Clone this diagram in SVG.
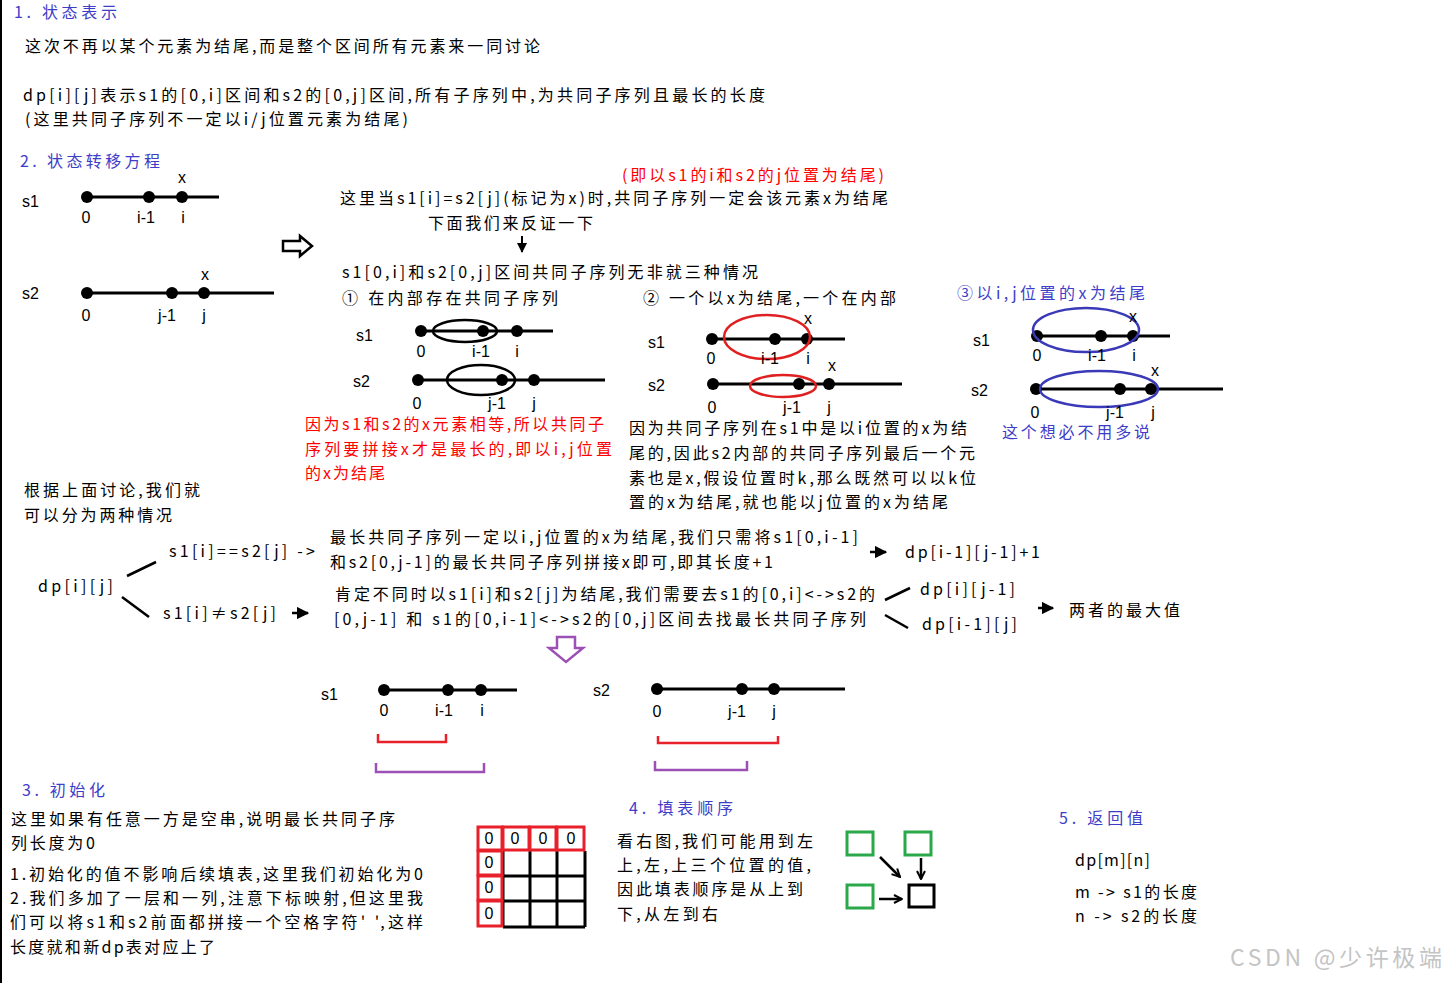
<svg xmlns="http://www.w3.org/2000/svg" width="1445" height="983" viewBox="0 0 1445 983">
<style>
.t{font-family:"Noto Sans CJK SC","Liberation Sans",sans-serif;font-size:16px;fill:#000}
.b{fill:#3d3dc8}
.r{fill:#ff0000}
.l{font-family:"Liberation Sans",Arial,sans-serif;font-size:16px;fill:#000}
.m{text-anchor:middle}
.ln{stroke:#000;stroke-width:3;fill:none}
.el{stroke-width:2.5;fill:none}
.cell{fill:none;stroke:#e8202a;stroke-width:3}
.g{fill:none;stroke:#2aa84a;stroke-width:3}
</style>
<defs>
<marker id="ah" viewBox="0 0 10 10" refX="9" refY="5" markerWidth="5" markerHeight="5" orient="auto">
<path d="M0,0 L10,5 L0,10 z" fill="#000"/>
</marker>
<marker id="ov" viewBox="0 0 10 10" refX="9" refY="5" markerWidth="4" markerHeight="4" orient="auto">
<path d="M1,1 L9,5 L1,9" fill="none" stroke="#000" stroke-width="2"/>
</marker>
</defs>
<rect x="0" y="0" width="1445" height="983" fill="#fff"/>
<rect x="0" y="0" width="2" height="983" fill="#000"/>

<g id="sec1">
<text class="t b" x="14" y="18" font-size="15" textLength="103">1. 状态表示</text>
<text class="t" x="25" y="52" textLength="515">这次不再以某个元素为结尾,而是整个区间所有元素来一同讨论</text>
<text class="t" x="23" y="101" textLength="742">dp[i][j]表示s1的[0,i]区间和s2的[0,j]区间,所有子序列中,为共同子序列且最长的长度</text>
<text class="t" x="25" y="125" textLength="383">(这里共同子序列不一定以i/j位置元素为结尾)</text>
</g>

<g id="sec2-head">
<text class="t b" x="20" y="167" font-size="15" textLength="140">2. 状态转移方程</text>
</g>

<g id="left-s1">
<text class="l" x="22" y="207">s1</text>
<line class="ln" x1="87" y1="197" x2="219" y2="197"/>
<circle cx="87" cy="197" r="6"/><circle cx="149" cy="197" r="6"/><circle cx="182" cy="197" r="6"/>
<text class="l m" x="182" y="183" font-size="14">x</text>
<text class="l m" x="86" y="223">0</text><text class="l m" x="146" y="223">i-1</text><text class="l m" x="183" y="223">i</text>
</g>
<g id="left-s2">
<text class="l" x="22" y="299">s2</text>
<line class="ln" x1="87" y1="293" x2="274" y2="293"/>
<circle cx="87" cy="293" r="6"/><circle cx="172" cy="293" r="6"/><circle cx="204" cy="293" r="6"/>
<text class="l m" x="205" y="280" font-size="14">x</text>
<text class="l m" x="86" y="321">0</text><text class="l m" x="167" y="321">j-1</text><text class="l m" x="204" y="321">j</text>
</g>

<g id="claim">
<text class="t r" x="622" y="181" textLength="262">(即以s1的i和s2的j位置为结尾)</text>
<text class="t" x="340" y="204" textLength="548">这里当s1[i]=s2[j](标记为x)时,共同子序列一定会该元素x为结尾</text>
<text class="t" x="428" y="229" textLength="165">下面我们来反证一下</text>
<text class="t" x="342" y="278" textLength="416">s1[0,i]和s2[0,j]区间共同子序列无非就三种情况</text>
<text class="t" x="342" y="304" textLength="216">① 在内部存在共同子序列</text>
<text class="t" x="643" y="304" textLength="253">② 一个以x为结尾,一个在内部</text>
<text class="t b" x="957" y="299" textLength="188">③以i,j位置的x为结尾</text>
</g>

<g id="case1">
<text class="l" x="356" y="341">s1</text>
<line class="ln" x1="417" y1="331" x2="553" y2="331"/>
<circle cx="421" cy="331" r="6"/><circle cx="483" cy="331" r="6"/><circle cx="517" cy="331" r="6"/>
<ellipse class="el" cx="465" cy="331" rx="32" ry="11" stroke="#000"/>
<text class="l m" x="421" y="357">0</text><text class="l m" x="481" y="357">i-1</text><text class="l m" x="517" y="357">i</text>
<text class="l" x="353" y="387">s2</text>
<line class="ln" x1="417" y1="380" x2="605" y2="380"/>
<circle cx="418" cy="380" r="6"/><circle cx="502" cy="380" r="6"/><circle cx="534" cy="380" r="6"/>
<ellipse class="el" cx="481" cy="380" rx="34" ry="15" stroke="#000"/>
<text class="l m" x="417" y="409">0</text><text class="l m" x="497" y="409">j-1</text><text class="l m" x="534" y="409">j</text>
<text class="t r" x="305" y="430" textLength="299">因为s1和s2的x元素相等,所以共同子</text>
<text class="t r" x="305" y="455" textLength="307">序列要拼接x才是最长的,即以i,j位置</text>
<text class="t r" x="305" y="479" textLength="80">的x为结尾</text>
</g>

<g id="case2">
<text class="l" x="648" y="348">s1</text>
<line class="ln" x1="712" y1="339" x2="845" y2="339"/>
<circle cx="712" cy="339" r="6"/><circle cx="775" cy="339" r="6"/><circle cx="807" cy="339" r="6"/>
<ellipse class="el" cx="767" cy="337" rx="43" ry="22" stroke="#e02020"/>
<text class="l m" x="808" y="324" font-size="14">x</text>
<text class="l m" x="711" y="364">0</text><text class="l m" x="770" y="364">i-1</text><text class="l m" x="808" y="364">i</text>
<text class="l" x="648" y="391">s2</text>
<line class="ln" x1="713" y1="384" x2="902" y2="384"/>
<circle cx="713" cy="384" r="6"/><circle cx="799" cy="384" r="6"/><circle cx="829" cy="384" r="6"/>
<ellipse class="el" cx="783" cy="386" rx="33" ry="11" stroke="#e02020"/>
<text class="l m" x="832" y="371" font-size="14">x</text>
<text class="l m" x="712" y="413">0</text><text class="l m" x="792" y="413">j-1</text><text class="l m" x="829" y="413">j</text>
<text class="t" x="629" y="434" textLength="338">因为共同子序列在s1中是以i位置的x为结</text>
<text class="t" x="629" y="459" textLength="346">尾的,因此s2内部的共同子序列最后一个元</text>
<text class="t" x="629" y="484" textLength="347">素也是x,假设位置时k,那么既然可以以k位</text>
<text class="t" x="629" y="508" textLength="319">置的x为结尾,就也能以j位置的x为结尾</text>
</g>

<g id="case3">
<text class="l" x="973" y="346">s1</text>
<line class="ln" x1="1037" y1="336" x2="1170" y2="336"/>
<circle cx="1037" cy="336" r="6"/><circle cx="1101" cy="336" r="6"/><circle cx="1133" cy="336" r="6"/>
<ellipse class="el" cx="1086" cy="330" rx="53" ry="22" stroke="#3a3ab8"/>
<text class="l m" x="1133" y="322" font-size="14">x</text>
<text class="l m" x="1037" y="361">0</text><text class="l m" x="1097" y="361">i-1</text><text class="l m" x="1134" y="361">i</text>
<text class="l" x="971" y="396">s2</text>
<line class="ln" x1="1036" y1="389" x2="1223" y2="389"/>
<circle cx="1036" cy="389" r="6"/><circle cx="1120" cy="389" r="6"/><circle cx="1151" cy="389" r="6"/>
<ellipse class="el" cx="1099" cy="389" rx="59" ry="18" stroke="#3a3ab8"/>
<text class="l m" x="1155" y="376" font-size="14">x</text>
<text class="l m" x="1035" y="418">0</text><text class="l m" x="1115" y="418">j-1</text><text class="l m" x="1153" y="418">j</text>
<text class="t b" x="1002" y="438" textLength="148">这个想必不用多说</text>
</g>

<g id="summary">
<text class="t" x="24" y="496" textLength="176">根据上面讨论,我们就</text>
<text class="t" x="24" y="521" textLength="148">可以分为两种情况</text>
</g>

<g id="tree">
<text class="t" x="38" y="592" textLength="75">dp[i][j]</text>
<text class="t" x="169" y="557" textLength="146">s1[i]==s2[j] -&gt;</text>
<text class="t" x="163" y="619" textLength="113">s1[i]≠s2[j]</text>
<text class="t" x="330" y="543" textLength="528">最长共同子序列一定以i,j位置的x为结尾,我们只需将s1[0,i-1]</text>
<text class="t" x="330" y="568" textLength="443">和s2[0,j-1]的最长共同子序列拼接x即可,即其长度+1</text>
<text class="t" x="905" y="558" textLength="135">dp[i-1][j-1]+1</text>
<text class="t" x="335" y="600" textLength="540">肯定不同时以s1[i]和s2[j]为结尾,我们需要去s1的[0,i]&lt;-&gt;s2的</text>
<text class="t" x="334" y="625" textLength="532">[0,j-1]  和  s1的[0,i-1]&lt;-&gt;s2的[0,j]区间去找最长共同子序列</text>
<text class="t" x="920" y="595" textLength="95">dp[i][j-1]</text>
<text class="t" x="922" y="630" textLength="95">dp[i-1][j]</text>
<text class="t" x="1069" y="616" textLength="111">两者的最大值</text>
</g>

<g id="bottom-s1">
<text class="l" x="321" y="700">s1</text>
<line class="ln" x1="384" y1="690" x2="517" y2="690"/>
<circle cx="384" cy="690" r="6"/><circle cx="448" cy="690" r="6"/><circle cx="481" cy="690" r="6"/>
<text class="l m" x="384" y="716">0</text><text class="l m" x="444" y="716">i-1</text><text class="l m" x="482" y="716">i</text>
<path d="M378,734 V742 H446 V734" fill="none" stroke="#e8202a" stroke-width="2.5"/>
<path d="M376,763 V772 H484 V763" fill="none" stroke="#9c50b6" stroke-width="2.5"/>
</g>
<g id="bottom-s2">
<text class="l" x="593" y="696">s2</text>
<line class="ln" x1="657" y1="689" x2="845" y2="689"/>
<circle cx="657" cy="689" r="6"/><circle cx="742" cy="689" r="6"/><circle cx="774" cy="689" r="6"/>
<text class="l m" x="657" y="717">0</text><text class="l m" x="737" y="717">j-1</text><text class="l m" x="774" y="717">j</text>
<path d="M658,736 V743 H778 V736" fill="none" stroke="#e8202a" stroke-width="2.5"/>
<path d="M655,761 V770 H747 V761" fill="none" stroke="#9c50b6" stroke-width="2.5"/>
</g>

<g id="sec3">
<text class="t b" x="22" y="796" font-size="15" textLength="83">3. 初始化</text>
<text class="t" x="11" y="825" textLength="384">这里如果有任意一方是空串,说明最长共同子序</text>
<text class="t" x="11" y="849" textLength="84">列长度为0</text>
<text class="t" x="10" y="880" textLength="413">1.初始化的值不影响后续填表,这里我们初始化为0</text>
<text class="t" x="10" y="904" textLength="413">2.我们多加了一层和一列,注意下标映射,但这里我</text>
<text class="t" x="10" y="928" textLength="413">们可以将s1和s2前面都拼接一个空格字符'  ',这样</text>
<text class="t" x="10" y="953" textLength="205">长度就和新dp表对应上了</text>
</g>

<g id="grid">
<path d="M503,851 V927 M530,851 V927 M557,851 V927 M585,851 V927 M503,876 H585 M503,901 H585 M503,927 H585" stroke="#000" stroke-width="3" fill="none"/>
<rect class="cell" x="478" y="827" width="24" height="23"/>
<rect class="cell" x="503" y="827" width="26" height="23"/>
<rect class="cell" x="530" y="827" width="26" height="23"/>
<rect class="cell" x="557" y="827" width="27" height="23"/>
<rect class="cell" x="478" y="851" width="24" height="24"/>
<rect class="cell" x="478" y="876" width="24" height="24"/>
<rect class="cell" x="478" y="901" width="24" height="25"/>
<text class="l m" x="489" y="844">0</text><text class="l m" x="515" y="844">0</text><text class="l m" x="543" y="844">0</text><text class="l m" x="571" y="844">0</text>
<text class="l m" x="489" y="868">0</text><text class="l m" x="489" y="893">0</text><text class="l m" x="489" y="919">0</text>
</g>

<g id="sec4">
<text class="t b" x="629" y="814" font-size="15" textLength="104">4. 填表顺序</text>
<text class="t" x="617" y="847" textLength="196">看右图,我们可能用到左</text>
<text class="t" x="617" y="871" textLength="194">上,左,上三个位置的值,</text>
<text class="t" x="617" y="895" textLength="186">因此填表顺序是从上到</text>
<text class="t" x="617" y="920" textLength="101">下,从左到右</text>
</g>
<g id="order-squares">
<rect class="g" x="847" y="832" width="26" height="23"/>
<rect class="g" x="905" y="832" width="26" height="23"/>
<rect class="g" x="847" y="885" width="26" height="23"/>
<rect x="909" y="885" width="25" height="22" fill="none" stroke="#000" stroke-width="3"/>
</g>

<g id="sec5">
<text class="t b" x="1059" y="824" font-size="15" textLength="84">5. 返回值</text>
<text class="t" x="1075" y="866" textLength="75">dp[m][n]</text>
<text class="t" x="1075" y="898" textLength="122">m -&gt; s1的长度</text>
<text class="t" x="1075" y="922" textLength="122">n -&gt; s2的长度</text>
</g>

<g id="connectors">
<path d="M283,241 H300 V236 L312,246 L300,256 V251 H283 Z" fill="#fff" stroke="#000" stroke-width="2.5"/>
<line x1="522" y1="236" x2="522" y2="252" stroke="#000" stroke-width="2" marker-end="url(#ah)"/>
<line x1="127" y1="576" x2="156" y2="562" stroke="#000" stroke-width="2.5"/>
<line x1="122" y1="597" x2="149" y2="617" stroke="#000" stroke-width="2.5"/>
<line x1="292" y1="613" x2="308" y2="613" stroke="#000" stroke-width="2.5" marker-end="url(#ah)"/>
<line x1="870" y1="552" x2="886" y2="552" stroke="#000" stroke-width="2.5" marker-end="url(#ah)"/>
<line x1="885" y1="600" x2="910" y2="588" stroke="#000" stroke-width="2.5"/>
<line x1="885" y1="615" x2="908" y2="628" stroke="#000" stroke-width="2.5"/>
<line x1="1038" y1="608" x2="1053" y2="608" stroke="#000" stroke-width="2.5" marker-end="url(#ah)"/>
<path d="M557,637 H575 V648 H583 L566,662 L549,648 H557 Z" fill="#fff" stroke="#9c50b6" stroke-width="2.5"/>
<line x1="880" y1="857" x2="900" y2="877" stroke="#000" stroke-width="2.5" marker-end="url(#ov)"/>
<line x1="921" y1="858" x2="921" y2="879" stroke="#000" stroke-width="2.5" marker-end="url(#ov)"/>
<line x1="879" y1="899" x2="902" y2="899" stroke="#000" stroke-width="2.5" marker-end="url(#ov)"/>
</g>

<text x="1230" y="966" font-family="'Noto Sans CJK SC','Liberation Sans',sans-serif" font-size="23" fill="#c4c4c4" textLength="212">CSDN @少许极端</text>
</svg>
